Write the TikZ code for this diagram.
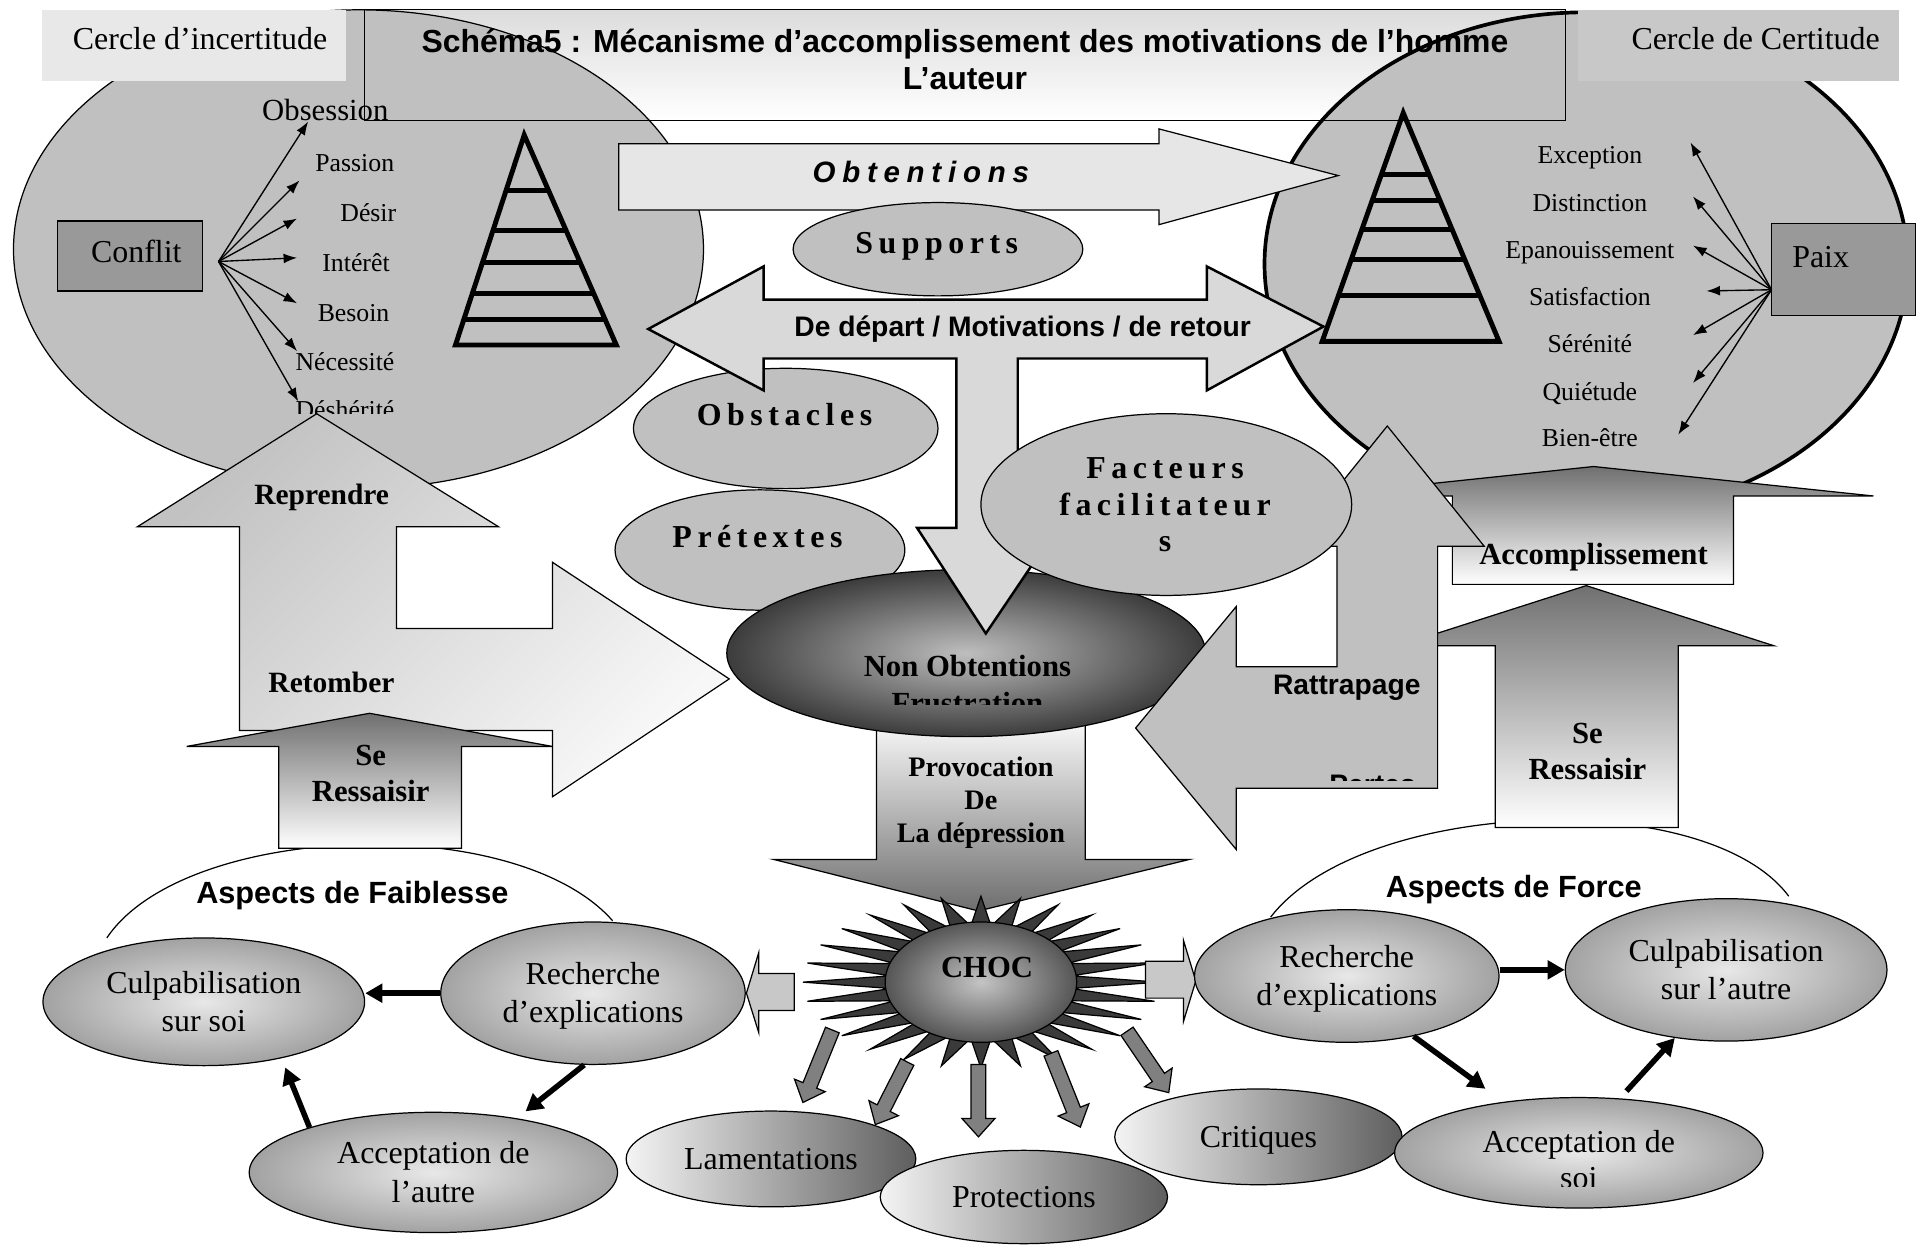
\documentclass[tikz,border=0pt]{standalone}
\usepackage{fontspec}
\setmainfont{Liberation Serif}
\setsansfont{Liberation Sans}
\usetikzlibrary{calc}
\usetikzlibrary{arrows.meta}
\usetikzlibrary{shapes.geometric}

\definecolor{titrehaut}{HTML}{DCDCDC}
\definecolor{cerclegris}{HTML}{C0C0C0}
\definecolor{boiteclaire}{HTML}{E8E8E8}
\definecolor{boitegrise}{HTML}{C8C8C8}
\definecolor{boitefoncee}{HTML}{999999}
\definecolor{flecheclaire}{HTML}{E6E6E6}
\definecolor{flechemoy}{HTML}{D9D9D9}
\definecolor{reprhaut}{HTML}{C2C2C2}
\definecolor{reprbas}{HTML}{F7F7F7}
\definecolor{provhaut}{HTML}{F6F6F6}
\definecolor{provbas}{HTML}{6E6E6E}
\definecolor{degrfonce}{HTML}{707070}
\definecolor{nonin}{HTML}{BEBEBE}
\definecolor{nonout}{HTML}{3C3C3C}
\definecolor{chocin}{HTML}{C4C4C4}
\definecolor{chocout}{HTML}{555555}
\definecolor{pointes}{HTML}{3A3A3A}
\definecolor{chocflanc}{HTML}{C8C8C8}
\definecolor{blocgris}{HTML}{808080}
\definecolor{rattrap}{HTML}{C0C0C0}
\definecolor{bouleclair}{HTML}{E8E8E8}
\definecolor{bouleombre}{HTML}{A2A2A2}
\definecolor{galetclair}{HTML}{F4F4F4}
\definecolor{galetombre}{HTML}{5E5E5E}

\makeatletter
\newcommand\espace[2]{\def\esp@gap{\hskip#1\relax}\@tfor\esp@c:=#2\do{\esp@c\esp@gap}\unskip}
\makeatother

\newcommand\blocfleche[2]{%
  \coordinate (bft) at ($(#2)!15pt!(#1)$);
  \draw[bloc] ($(#1)!6pt!90:(#2)$) -- ($(bft)!6pt!90:(#2)$) -- ($(bft)!13.5pt!90:(#2)$) -- (#2)
    -- ($(bft)!13.5pt!-90:(#2)$) -- ($(bft)!6pt!-90:(#2)$) -- ($(#1)!6pt!-90:(#2)$) -- cycle;}

\tikzset{
  fin/.style={line width=1pt},
  echelle/.style={line width=4pt},
  fleche/.style={line width=1.1pt, -{Latex[length=11pt,width=8pt]}},
  grosse/.style={line width=4.5pt, -{Triangle[length=14pt,width=15pt]}},
  bloc/.style={fin, fill=blocgris},
  lpetit/.style={font=\fontsize{21}{25}\selectfont, inner sep=0pt, text height=13.9pt, text depth=0pt},
  lobs/.style={font=\fontsize{25}{30}\selectfont, inner sep=0pt, text height=16.5pt, text depth=0pt},
  lmoy/.style={font=\fontsize{26}{31}\selectfont, inner sep=0pt, text height=17.2pt, text depth=0pt, align=center},
  lgras/.style={font=\bfseries\fontsize{25}{30}\selectfont, inner sep=0pt, text height=16.5pt, text depth=0pt, align=center},
  lreprise/.style={font=\bfseries\fontsize{24}{29}\selectfont, inner sep=0pt, text height=15.8pt, text depth=0pt},
  lprov/.style={font=\bfseries\fontsize{23}{27}\selectfont, inner sep=0pt, text height=69.2pt, text depth=0pt, align=center},
  lesp/.style={font=\bfseries\fontsize{26}{29.5}\selectfont, inner sep=0pt, text height=17.2pt, text depth=0pt, align=center},
  lsans/.style={font=\sffamily\bfseries\fontsize{25}{30}\selectfont, inner sep=0pt, text height=18pt, text depth=0pt, align=center},
  lsansm/.style={font=\sffamily\bfseries\fontsize{23}{28}\selectfont, inner sep=0pt, text height=16.5pt, text depth=0pt},
  lobt/.style={font=\sffamily\bfseries\itshape\fontsize{24}{28}\selectfont, inner sep=0pt, text height=17.2pt, text depth=0pt},
  bulle/.style={ellipse, draw, line width=1pt, fill=cerclegris, inner sep=0pt},
  boule/.style={ellipse, draw, line width=1pt, inner color=bouleclair, outer color=bouleombre, inner sep=0pt, lmoy, text height=48.2pt},
  galet/.style={ellipse, draw, line width=1pt, left color=galetclair, right color=galetombre, inner sep=0pt, lmoy},
}

\begin{document}
\begin{tikzpicture}[x=1pt,y=-1pt]
\useasboundingbox (0,0) rectangle (1568,1015);
\shade[top color=titrehaut, bottom color=white] (297,8) rectangle (1275,98);
\draw[fin, fill=cerclegris] (292,203) ellipse [x radius=281pt, y radius=195pt];
\draw[line width=3pt, fill=cerclegris] (1292,215) ellipse [x radius=262pt, y radius=205pt];
\draw[fin] (297,8) rectangle (1275,98);
\node[lsans, font=\sffamily\bfseries\fontsize{26}{30}\selectfont, text height=48.7pt] (titre) at (786,48.5) {Schéma5 : Mécanisme d’accomplissement des motivations de l’homme\\L’auteur};
\fill[boiteclaire] (34,8) rectangle (282,66);
\node[lmoy] (incertitude) at (163,32) {Cercle d’incertitude};
\fill[boitegrise] (1285,8) rectangle (1547,66);
\node[lmoy] (certitude) at (1430,32) {Cercle de Certitude};

\draw[fin, fill=boitefoncee] (47,180) rectangle (165,237);
\node[lmoy] (conflit) at (111,205) {Conflit};
\draw[fin, fill=boitefoncee] (1443,182) rectangle (1560,257);
\node[lmoy] (paix) at (1483,209) {Paix};

\coordinate (cf) at (178,213);
\node[lobs] (obsession) at (265,89.5) {Obsession};
\coordinate (g0) at (251,99);
\draw[fleche] (cf) -- (g0);
\foreach \mot/\x/\y/\tx/\ty [count=\i] in {Passion/289/133/244/147, Désir/300/173.5/242/178, Intérêt/290/214/242/210, Besoin/288/255/242/247, Nécessité/281/295/242/286}{
  \node[lpetit] (mot\i) at (\x,\y) {\mot};
  \coordinate (g\i) at (\tx,\ty);
  \draw[fleche] (cf) -- (g\i);
}
\coordinate (g6) at (243,327);
\draw[fleche] (cf) -- (g6);
\begin{scope}
\clip (220,310) rectangle (345,336.5);
\node[lpetit] (desherite) at (281,334) {Déshérité};
\end{scope}

\coordinate (pc) at (1443,236);
\foreach \mot/\y/\tx/\ty [count=\i] in {Exception/126.5/1377/116, Distinction/165.5/1379/160, Epanouissement/203.5/1379/200, Satisfaction/241.5/1390/237, Sérénité/280/1379/273, Quiétude/319/1379/312, Bien-être/357/1367/354}{
  \node[lpetit] (mp\i) at (1295,\y) {\mot};
  \coordinate (p\i) at (\tx,\ty);
  \draw[fleche] (pc) -- (p\i);
}

\coordinate (ga) at (427,110);
\coordinate (gl) at (371,281);
\coordinate (gr) at (502,281);
\draw[echelle] (gl) -- (ga) -- (gr) -- cycle;
\foreach \h in {155,188,214,239,260}
  \draw[echelle] ($(gl)!{(281-\h)/171}!(ga)$) -- ($(gr)!{(281-\h)/171}!(ga)$);
\coordinate (da) at (1143,92);
\coordinate (dl) at (1077,278);
\coordinate (dr) at (1221,278);
\draw[echelle] (dl) -- (da) -- (dr) -- cycle;
\foreach \h in {142,163,187,211,241}
  \draw[echelle] ($(dl)!{(278-\h)/186}!(da)$) -- ($(dr)!{(278-\h)/186}!(da)$);

\draw[fin] (87,764) .. controls (150,670) and (420,660) .. (499,750);
\node[lsans] (faiblesse) at (287,727) {Aspects de Faiblesse};
\draw[fin] (1035,747) .. controls (1110,650) and (1390,640) .. (1457,730);
\node[lsans] (force) at (1233,722) {Aspects de Force};

\draw[fin, fill=flecheclaire] (504,117) -- (944,117) -- (944,105) -- (1090,143) -- (944,183) -- (944,171) -- (504,171) -- cycle;
\node[lobt] (obtentions) at (750,140) {\espace{5.5pt}{Obtentions}};

\shadedraw[fin, top color=reprhaut, bottom color=reprbas, shading angle=45] (258,337) -- (406,429) -- (323,429) -- (323,512) -- (450,512) -- (450,458) -- (594,553) -- (450,649) -- (450,595) -- (195,595) -- (195,429) -- (112,429) -- cycle;
\node[lreprise] (reprendre) at (262,403) {Reprendre};
\node[lreprise] (retomber) at (270,556) {Retomber};

\node[bulle, minimum width=248pt, minimum height=98pt] (obstacles) at (640,349) {};
\node[lesp] (obstaclestxt) at (639,338) {\espace{4.5pt}{Obstacles}};
\node[bulle, minimum width=236pt, minimum height=98pt] (pretextes) at (619,448) {};
\node[lesp] (pretextestxt) at (617,437) {\espace{4.5pt}{Prétextes}};

\shadedraw[fin, top color=provhaut, bottom color=provbas] (714,590) -- (884,590) -- (884,700) -- (969,700) -- (797,742) -- (630,700) -- (714,700) -- cycle;
\node[lprov] (provocation) at (799,652) {Provocation\\De\\La dépression};

\node[ellipse, draw, line width=1pt, inner color=nonin, outer color=nonout, minimum width=390pt, minimum height=136pt, inner sep=0pt] (nonobt) at (787,532) {};
\node[lgras] (nonobttxt) at (788,543) {Non Obtentions};
\begin{scope}
\clip (650,555) rectangle (930,574);
\node[lgras] (frustration) at (788,573) {Frustration};
\end{scope}

\draw[line width=2pt, fill=flechemoy] (528,268) -- (622,217) -- (622,244) -- (983,244) -- (983,217) -- (1078,266) -- (983,318) -- (983,292) -- (829,292) -- (829,430) -- (861,430) -- (803,516) -- (747,430) -- (779,430) -- (779,292) -- (622,292) -- (622,318) -- cycle;
\node[lsansm] (motivations) at (833,266) {De départ / Motivations / de retour};

\node[bulle, minimum width=236pt, minimum height=76pt] (supports) at (764,203) {};
\node[lesp] (supportstxt) at (763,197.5) {\espace{4.5pt}{Supports}};

\shadedraw[fin, top color=degrfonce, bottom color=white] (1298,380) -- (1526,404) -- (1412,404) -- (1412,476) -- (1183,476) -- (1183,404) -- (1070,404) -- cycle;
\node[lgras] (accompl) at (1298,451.5) {Accomplissement};
\shadedraw[fin, top color=degrfonce, bottom color=white] (1292,477) -- (1445,526) -- (1367,526) -- (1367,674) -- (1218,674) -- (1218,526) -- (1139,526) -- cycle;
\node[lgras, text height=46.5pt] (ressaisird) at (1293,612) {Se\\Ressaisir};
\shadedraw[fin, top color=degrfonce, bottom color=white] (301,581) -- (450,608) -- (376,608) -- (376,691) -- (227,691) -- (227,608) -- (152,608) -- cycle;
\node[lgras, text height=46.5pt] (ressaisirg) at (302,630) {Se\\Ressaisir};

\draw[fin, fill=rattrap] (1130,347) -- (1209,445) -- (1171,445) -- (1171,642) -- (1007,642) -- (1007,692) -- (925,593) -- (1007,494) -- (1007,543) -- (1089,543) -- (1089,445) -- (1051,445) -- cycle;
\node[lsansm] (rattrapage) at (1097,557.5) {Rattrapage};
\begin{scope}
\clip (1050,620) rectangle (1168,636);
\node[lsansm] (pertes) at (1118,639) {Pertes};
\end{scope}

\node[bulle, minimum width=302pt, minimum height=148pt] (facteurs) at (950,411) {};
\node[lesp, text height=76.2pt] (facteurstxt) at (949,411) {\espace{4.5pt}{Facteurs}\\\espace{4.5pt}{facilitateur}\\\espace{4.5pt}{s}};

\node[galet, minimum width=236pt, minimum height=78pt] (lament) at (628,944) {Lamentations};
\node[galet, minimum width=234pt, minimum height=76pt] (protect) at (834,975) {Protections};
\node[galet, minimum width=234pt, minimum height=78pt] (critiq) at (1025,926) {Critiques};

\draw[fin, fill=pointes, shift={(799,800)}] plot[variable=\t, samples at={0,...,55}] ({(109.5+35.5*cos(180*mod(\t,2)))*cos(6.428571*\t)}, {(58+12*cos(180*mod(\t,2)))*sin(6.428571*\t)}) -- cycle;
\node[ellipse, draw, line width=1pt, inner color=chocin, outer color=chocout, minimum width=156pt, minimum height=98pt, inner sep=0pt] (choc) at (799,800) {};
\node[lgras] (choctxt) at (804,788) {CHOC};
\draw[fin, fill=chocflanc] (647,793) -- (618,793) -- (618,776) -- (608,809) -- (618,841) -- (618,823) -- (647,823) -- cycle;
\draw[fin, fill=chocflanc] (933,783) -- (964,783) -- (964,766) -- (974,799) -- (964,832) -- (964,813) -- (933,813) -- cycle;
\foreach \sx/\sy/\ex/\ey [count=\i] in {678/839/654/898, 739/865/713/916, 797/867/797/926, 856/858/880/918, 918/840/952/890}{
  \coordinate (bd\i) at (\sx,\sy);
  \coordinate (bf\i) at (\ex,\ey);
  \blocfleche{bd\i}{bf\i}
}

\node[boule, minimum width=262pt, minimum height=104pt] (culpsoi) at (166,816) {Culpabilisation\\sur soi};
\node[boule, minimum width=248pt, minimum height=116pt] (rechg) at (483,809) {Recherche\\d’explications};
\node[boule, minimum width=300pt, minimum height=98pt] (accautre) at (353,955) {Acceptation de\\l’autre};
\draw[grosse] (rechg.west) -- (rechg.west -| culpsoi.east);
\draw[grosse, shorten >=9pt] (rechg.-97) -- (accautre.33);
\draw[grosse, shorten >=8pt] (accautre.160) -- (culpsoi.-36);

\node[boule, minimum width=248pt, minimum height=108pt] (rechd) at (1097,795) {Recherche\\d’explications};
\node[boule, minimum width=262pt, minimum height=116pt] (culpautre) at (1406,790) {Culpabilisation\\sur l’autre};
\node[boule, minimum width=300pt, minimum height=90pt] (accsoi) at (1286,939) {};
\node[lmoy] (accsoitxt) at (1286,930.5) {Acceptation de};
\begin{scope}
\clip (1240,945) rectangle (1330,966.5);
\node[lmoy] (soi) at (1286,959.75) {soi};
\end{scope}
\coordinate (rechdr) at ($(rechd.east)+(0,-5)$);
\draw[grosse] (rechdr) -- (rechdr -| culpautre.west);
\draw[grosse, shorten >=18pt] (rechd.-42) -- (accsoi.146);
\draw[grosse, shorten <=8pt] (accsoi.53) -- (culpautre.-127);
\end{tikzpicture}
\end{document}
